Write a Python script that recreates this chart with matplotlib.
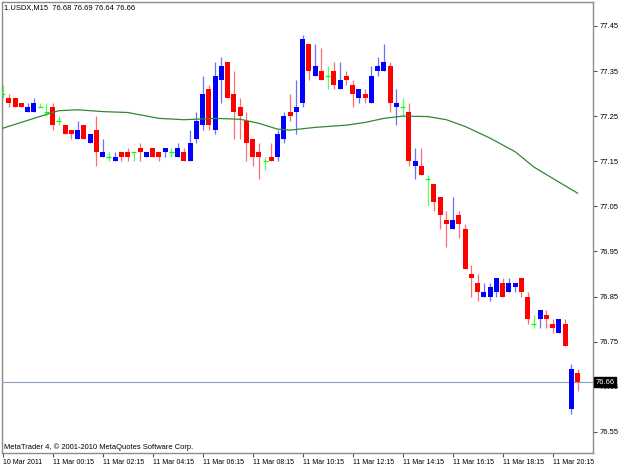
"""Recreate the MT4 USDX M15 candlestick chart with its moving average."""

import matplotlib

matplotlib.use("Agg")
import matplotlib.pyplot as plt
from matplotlib.transforms import blended_transform_factory

HEADER = "1.USDX,M15  76.68 76.69 76.64 76.66"
FOOTER = "MetaTrader 4, \u00a9 2001-2010 MetaQuotes Software Corp."

# one entry per M15 bar, 10 Mar 22:15 .. 11 Mar 21:15
opens = [
    77.30, 77.29, 77.29, 77.28, 77.26, 77.26, 77.27, 77.26, 77.27, 77.24,
    77.23, 77.22, 77.20, 77.23, 77.19, 77.22, 77.16, 77.16, 77.15, 77.17,
    77.17, 77.17, 77.18, 77.16, 77.18, 77.17, 77.17, 77.17, 77.16, 77.17,
    77.15, 77.20, 77.23, 77.31, 77.22, 77.33, 77.37, 77.30, 77.27, 77.24,
    77.20, 77.17, 77.15, 77.16, 77.16, 77.20, 77.26, 77.26, 77.28, 77.41,
    77.34, 77.35, 77.34, 77.35, 77.31, 77.34, 77.32, 77.29, 77.30, 77.28,
    77.35, 77.35, 77.36, 77.27, 77.27, 77.26, 77.14, 77.14, 77.11, 77.10,
    77.07, 77.02, 77.00, 77.03, 77.00, 76.90, 76.88, 76.85, 76.85, 76.86,
    76.88, 76.86, 76.87, 76.89, 76.85, 76.79, 76.80, 76.81, 76.79, 76.77,
    76.79, 76.60, 76.68,
]
highs = [
    77.32, 77.30, 77.29, 77.28, 77.28, 77.29, 77.28, 77.28, 77.28, 77.25,
    77.23, 77.22, 77.24, 77.23, 77.21, 77.25, 77.20, 77.17, 77.17, 77.17,
    77.18, 77.17, 77.19, 77.17, 77.18, 77.17, 77.18, 77.18, 77.19, 77.18,
    77.22, 77.26, 77.34, 77.32, 77.37, 77.38, 77.37, 77.35, 77.29, 77.26,
    77.20, 77.19, 77.16, 77.19, 77.22, 77.26, 77.30, 77.33, 77.43, 77.41,
    77.41, 77.40, 77.36, 77.37, 77.37, 77.35, 77.33, 77.31, 77.31, 77.36,
    77.38, 77.41, 77.37, 77.31, 77.29, 77.28, 77.18, 77.18, 77.12, 77.10,
    77.07, 77.04, 77.07, 77.04, 77.01, 76.92, 76.90, 76.88, 76.88, 76.89,
    76.89, 76.89, 76.88, 76.89, 76.86, 76.81, 76.82, 76.82, 76.80, 76.80,
    76.80, 76.70, 76.69,
]
lows = [
    77.29, 77.27, 77.27, 77.27, 77.26, 77.26, 77.27, 77.25, 77.22, 77.23,
    77.21, 77.20, 77.20, 77.20, 77.19, 77.14, 77.16, 77.15, 77.15, 77.15,
    77.15, 77.15, 77.15, 77.16, 77.16, 77.15, 77.16, 77.16, 77.16, 77.15,
    77.15, 77.19, 77.22, 77.22, 77.21, 77.28, 77.29, 77.20, 77.20, 77.15,
    77.14, 77.11, 77.13, 77.15, 77.15, 77.19, 77.24, 77.21, 77.27, 77.33,
    77.34, 77.33, 77.31, 77.31, 77.31, 77.32, 77.27, 77.28, 77.28, 77.28,
    77.34, 77.35, 77.26, 77.23, 77.25, 77.14, 77.11, 77.12, 77.05, 77.04,
    77.00, 76.96, 77.00, 76.98, 76.91, 76.85, 76.84, 76.85, 76.84, 76.85,
    76.85, 76.86, 76.86, 76.85, 76.79, 76.78, 76.78, 76.78, 76.77, 76.77,
    76.74, 76.59, 76.64,
]
closes = [
    77.30, 77.28, 77.27, 77.27, 77.27, 77.28, 77.27, 77.26, 77.23, 77.24,
    77.21, 77.21, 77.22, 77.20, 77.21, 77.17, 77.17, 77.16, 77.16, 77.16,
    77.16, 77.17, 77.17, 77.17, 77.16, 77.16, 77.18, 77.17, 77.18, 77.15,
    77.19, 77.24, 77.30, 77.23, 77.34, 77.36, 77.29, 77.26, 77.25, 77.19,
    77.16, 77.16, 77.15, 77.15, 77.21, 77.25, 77.25, 77.27, 77.42, 77.35,
    77.36, 77.33, 77.34, 77.32, 77.33, 77.33, 77.30, 77.31, 77.29, 77.34,
    77.36, 77.37, 77.28, 77.28, 77.27, 77.15, 77.15, 77.12, 77.11, 77.06,
    77.03, 77.01, 77.02, 77.01, 76.91, 76.89, 76.86, 76.86, 76.87, 76.89,
    76.85, 76.88, 76.88, 76.86, 76.80, 76.79, 76.82, 76.80, 76.78, 76.80,
    76.74, 76.69, 76.66,
]

# moving average at a few bars
ma_bars = [0, 5, 8, 9, 12, 16, 20, 25, 29, 34, 38, 41, 44, 46, 50, 55,
           58, 61, 64, 68, 71, 74, 78, 82, 85, 88, 92]
ma_values = [77.223, 77.245, 77.258, 77.262, 77.264, 77.260, 77.258, 77.245,
             77.242, 77.245, 77.243, 77.234, 77.221, 77.219, 77.225, 77.230,
             77.236, 77.245, 77.250, 77.249, 77.242, 77.227, 77.201, 77.171,
             77.137, 77.112, 77.079]

time_tick_bars = [0, 8, 16, 24, 32, 40, 48, 56, 64, 72, 80, 88]
time_tick_labels = ["10 Mar 2011", "11 Mar 00:15", "11 Mar 02:15",
                    "11 Mar 04:15", "11 Mar 06:15", "11 Mar 08:15",
                    "11 Mar 10:15", "11 Mar 12:15", "11 Mar 14:15",
                    "11 Mar 16:15", "11 Mar 18:15", "11 Mar 20:15"]
price_ticks = [76.55, 76.65, 76.75, 76.85, 76.95, 77.05, 77.15, 77.25,
               77.35, 77.45]
last_price = 76.66

BULL = "#0000ff"
BEAR = "#ff0000"
DOJI = "#00ff00"
WICK = {BULL: "#6e6eff", BEAR: "#ff6e6e", DOJI: "#55ff55"}
FRAME = "#8c8c8c"
FONT = "Liberation Sans"


def candle_color(o, c):
    if c > o:
        return BULL
    if c < o:
        return BEAR
    return DOJI


def main():
    fig = plt.figure(figsize=(6.25, 4.69), dpi=100)
    ax = fig.add_axes([2 / 625, 16 / 469, 591 / 625, 451 / 469])

    half = 0.4
    for i, (o, h, l, c) in enumerate(zip(opens, highs, lows, closes)):
        col = candle_color(o, c)
        ax.vlines(i, l, h, color=WICK[col], linewidth=0.9, zorder=2)
        if col == DOJI:
            ax.hlines(o, i - half, i + half, color=col, linewidth=0.9, zorder=3)
        else:
            ax.bar(i, abs(c - o), bottom=min(o, c), width=2 * half,
                   color=col, linewidth=0, zorder=3)

    ax.plot(ma_bars, ma_values, color="#2f8a2f", linewidth=0.9, zorder=4)
    ax.axhline(last_price, color="#8aa0ba", linewidth=0.8, zorder=1)

    ax.set_xlim(-0.11, 94.45)
    ax.set_ylim(76.503, 77.503)

    for side in ax.spines.values():
        side.set_color(FRAME)
        side.set_linewidth(1.0)

    ax.yaxis.tick_right()
    ax.set_yticks(price_ticks)
    ax.set_yticklabels([f"{p:.2f}" for p in price_ticks], fontfamily=FONT)
    ax.tick_params(axis="y", direction="out", length=3, width=0.8,
                   color="#555555", pad=2, labelsize=5.5)

    ax.set_xticks(time_tick_bars)
    ax.set_xticklabels(time_tick_labels, fontfamily=FONT, ha="left")
    ax.tick_params(axis="x", direction="out", length=3, width=0.8,
                   color="#555555", pad=1.5, labelsize=5.0)

    trans = blended_transform_factory(ax.transAxes, ax.transData)
    ax.text(1.004, last_price, f"{last_price:.2f}", transform=trans,
            color="white", fontsize=5.5, fontfamily=FONT, va="center",
            ha="left", zorder=6,
            bbox=dict(boxstyle="square,pad=0.2", facecolor="black",
                      edgecolor="black"))

    fig.text(4 / 625, 1 - 8 / 469, HEADER, fontsize=5.4, fontfamily=FONT,
             va="center", ha="left")
    fig.text(4 / 625, 1 - 447 / 469, FOOTER, fontsize=5.4, fontfamily=FONT,
             va="center", ha="left")

    fig.savefig("out.png", dpi=100, facecolor="white")
    plt.close(fig)


if __name__ == "__main__":
    main()
